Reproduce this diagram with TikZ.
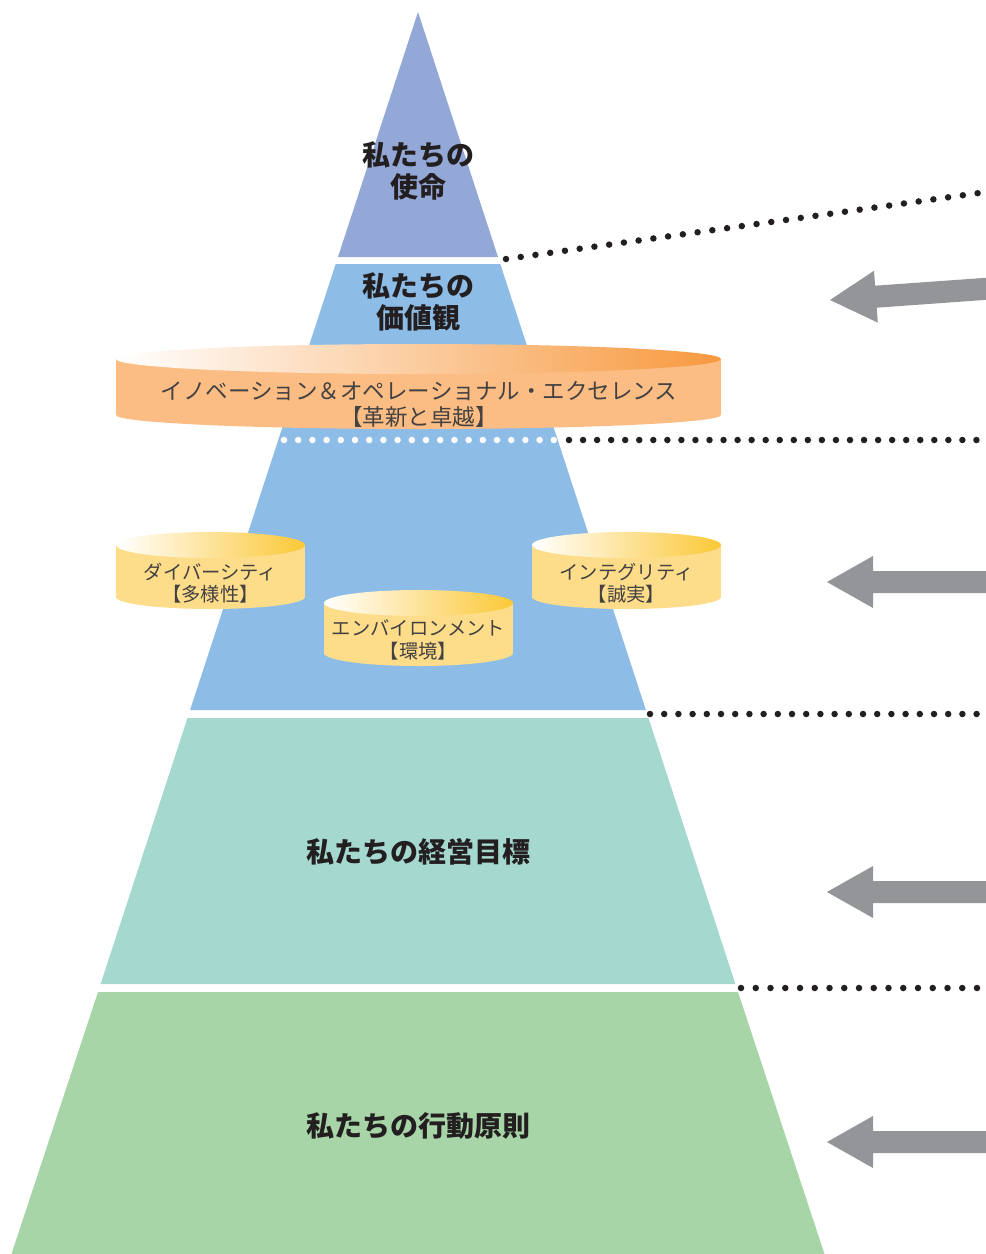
\documentclass[tikz,border=0pt]{standalone}
\usepackage{fontspec}
\newfontfamily\jp{Noto Sans CJK JP}
\definecolor{bandA}{HTML}{93A8D6}
\definecolor{bandB}{HTML}{8DBDE6}
\definecolor{bandC}{HTML}{A5D9D0}
\definecolor{bandD}{HTML}{A8D5A8}
\definecolor{ringbody}{HTML}{FBBD84}
\definecolor{ringtop}{HTML}{F7993F}
\definecolor{cylbody}{HTML}{FDDC8A}
\definecolor{cyltop}{HTML}{FBC837}
\definecolor{arrowgray}{HTML}{939598}
\definecolor{ink}{HTML}{231F20}
\tikzset{
  title/.style={font=\jp\bfseries\fontsize{28}{32}\selectfont, text=ink, align=center, inner sep=0pt},
  ringtext/.style={font=\jp\fontsize{22.5}{26}\selectfont, text=ink!85, align=center, inner sep=0pt},
  cyltext/.style={font=\jp\fontsize{19.3}{22.5}\selectfont, text=ink!85, align=center, inner sep=0pt},
  dotline/.style={line width=6.5pt, line cap=round, dash pattern=on 0pt off #1},
  bigarrow/.style={fill=arrowgray, draw=none}
}
\begin{document}
\begin{tikzpicture}[x=1pt,y=-1pt]
\useasboundingbox (0,0) rectangle (986,1254);
\fill[white] (0,0) rectangle (986,1254);
% pyramid bands
\fill[bandA] (418,12) -- (498,257) -- (338,257) -- cycle;
\fill[bandB] (335.7,264) -- (500.3,264) -- (645.9,710) -- (190.1,710) -- cycle;
\fill[bandC] (187.5,718) -- (648.5,718) -- (735.4,984) -- (100.6,984) -- cycle;
\fill[bandD] (98,992) -- (738,992) -- (824.5,1254) -- (11.5,1254) -- cycle;
% titles
\node[title] (mission) at (418,171) {私たちの\\使命};
\node[title] (values) at (418,302) {私たちの\\価値観};
\node[title] (goals) at (418,852) {私たちの経営目標};
\node[title] (principles) at (418,1126) {私たちの行動原則};
% orange ring
\fill[ringbody] (116,359) rectangle (721,415);
\fill[ringbody] (418.5,415) ellipse (302.5 and 14);
\shade[left color=white, right color=ringtop] (418.5,359) ellipse (302.5 and 15);
\node[ringtext] (ring) at (419,404) {イノベーション＆オペレーショナル・エクセレンス\\【革新と卓越】};
% small cylinders
\fill[cylbody] (116,545) rectangle (305,597);
\fill[cylbody] (210.5,597) ellipse (94.5 and 12);
\shade[left color=white, right color=cyltop] (210.5,545) ellipse (94.5 and 13);
\node[cyltext] (diversity) at (210.5,583) {ダイバーシティ\\【多様性】};
\fill[cylbody] (532,545) rectangle (721,597);
\fill[cylbody] (626.5,597) ellipse (94.5 and 12);
\shade[left color=white, right color=cyltop] (626.5,545) ellipse (94.5 and 13);
\node[cyltext] (integrity) at (626.5,583) {インテグリティ\\【誠実】};
\fill[cylbody] (324,603) rectangle (513,653);
\fill[cylbody] (418.5,653) ellipse (94.5 and 13);
\shade[left color=white, right color=cyltop] (418.5,603) ellipse (94.5 and 13);
\node[cyltext] (environment) at (418.5,640) {エンバイロンメント\\【環境】};
% dotted lines
\coordinate (d1s) at (506,259);
\coordinate (d1e) at (979,193);
\coordinate (d2w) at (284,440);
\coordinate (d2m) at (555,440);
\coordinate (d2s) at (569,440);
\coordinate (d2e) at (978,440);
\coordinate (d3s) at (650,714);
\coordinate (d3e) at (978,714);
\coordinate (d4s) at (741,988);
\coordinate (d4e) at (978,988);
\draw[dotline=14.88pt, ink] (d1s) -- (d1e);
\draw[dotline=14.2pt, white] (d2w) -- (d2m);
\draw[dotline=14.05pt, ink] (d2s) -- (d2e);
\draw[dotline=14.2pt, ink] (d3s) -- (d3e);
\draw[dotline=14.75pt, ink] (d4s) -- (d4e);
% arrows
\fill[bigarrow] (830,300) -- (874.0,270.8) -- (875.1,285.7) -- (990,277.5) -- (991,299.5) -- (876.7,307.7) -- (877.8,322.6) -- cycle;
\fill[bigarrow] (827,582) -- (873,556) -- (873,571) -- (990,571) -- (990,593) -- (873,593) -- (873,608) -- cycle;
\fill[bigarrow] (827,892) -- (873,866) -- (873,881) -- (990,881) -- (990,903) -- (873,903) -- (873,918) -- cycle;
\fill[bigarrow] (827,1142) -- (873,1116) -- (873,1131) -- (990,1131) -- (990,1153) -- (873,1153) -- (873,1168) -- cycle;
\end{tikzpicture}
\end{document}
